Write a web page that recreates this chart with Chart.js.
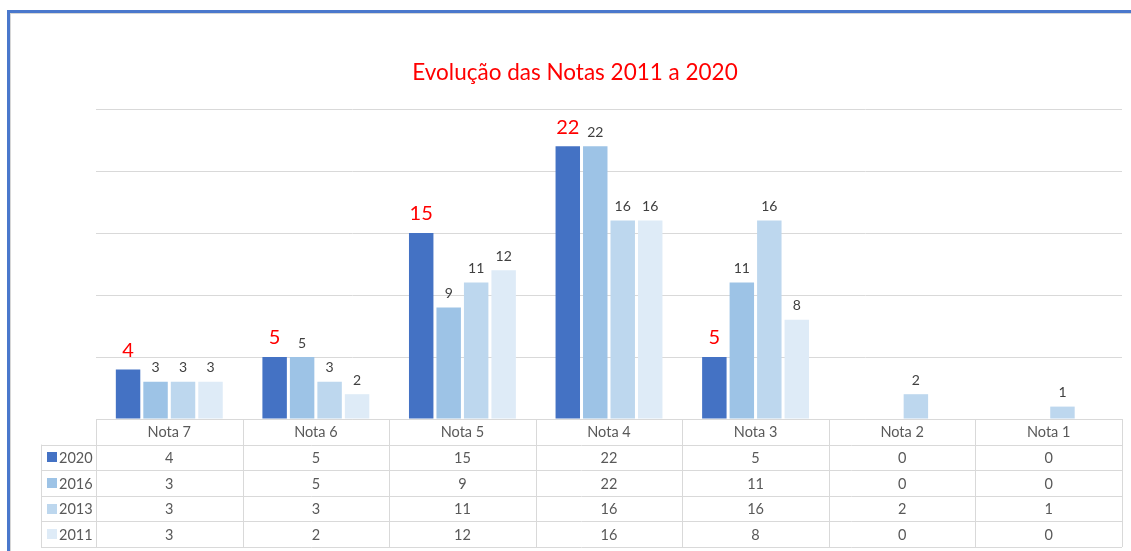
<!DOCTYPE html>
<html>
<head>
<meta charset="utf-8">
<script src="https://cdn.jsdelivr.net/npm/chart.js@4.4.1/dist/chart.umd.min.js"></script>
<style>
  html, body { margin: 0; padding: 0; background: #fff; }
  #frame { position: absolute; left: 7px; top: 10px; width: 1200px; height: 600px; border: 3px solid #4a78cc; box-sizing: border-box; }
  #frame::after { content: ''; position: absolute; left: 0; top: 0; right: 0; bottom: 0; border: 1px solid #d6d6d6; }
  #wrap { position: absolute; left: 0; top: 0; width: 1131px; height: 551px; }
</style>
</head>
<body>
<div id="frame"></div>
<div id="wrap"><canvas id="chart"></canvas></div>
<script>
const categories = ['Nota 7', 'Nota 6', 'Nota 5', 'Nota 4', 'Nota 3', 'Nota 2', 'Nota 1'];
const years = ['2020', '2016', '2013', '2011'];
const values2020 = [4, 5, 15, 22, 5, 0, 0];
const values2016 = [3, 5, 9, 22, 11, 0, 0];
const values2013 = [3, 3, 11, 16, 16, 2, 1];
const values2011 = [3, 2, 12, 16, 8, 0, 0];
const yTicks = [0, 5, 10, 15, 20, 25];
const TITLE = 'Evolução das Notas 2011 a 2020';

const COLORS = ['#4472c4', '#9dc3e6', '#bdd7ee', '#deebf7'];
const FONT = 'Lato, "Open Sans", sans-serif';
const series = [values2020, values2016, values2013, values2011];

// title is centred on the whole frame, not on the plot, so draw it by hand
const titlePlugin = {
  id: 'titlePlugin',
  afterDraw(chart) {
    const ctx = chart.ctx;
    ctx.save();
    ctx.fillStyle = '#ff0000';
    ctx.font = '22.5px ' + FONT;
    ctx.textAlign = 'center';
    ctx.textBaseline = 'middle';
    ctx.fillText(TITLE, 575, 73);
    ctx.restore();
  }
};

// value labels above each bar (2020 in red, bigger)
const barLabels = {
  id: 'barLabels',
  afterDatasetsDraw(chart) {
    const ctx = chart.ctx;
    ctx.save();
    ctx.textAlign = 'center';
    ctx.textBaseline = 'bottom';
    chart.data.datasets.forEach((ds, i) => {
      chart.getDatasetMeta(i).data.forEach((bar, j) => {
        const v = ds.data[j];
        if (!v) return;
        if (i === 0) { ctx.fillStyle = '#ff0000'; ctx.font = '20px ' + FONT; ctx.fillText(v, bar.x, bar.y - 9); }
        else { ctx.fillStyle = '#404040'; ctx.font = '14px ' + FONT; ctx.fillText(v, bar.x, bar.y - 7); }
      });
    });
    ctx.restore();
  }
};

// data table under the plot
const dataTable = {
  id: 'dataTable',
  afterDraw(chart) {
    const ctx = chart.ctx, x = chart.scales.x, area = chart.chartArea;
    const top = area.bottom, rowH = 25.6, n = categories.length;
    const colW = (x.right - x.left) / n;
    const legendLeft = 41;
    ctx.save();
    ctx.strokeStyle = '#d9d9d9';
    ctx.lineWidth = 1;
    ctx.beginPath();
    for (let r = 0; r <= years.length + 1; r++) {
      const y = Math.round(top + r * rowH) + 0.5;
      ctx.moveTo(r === 0 ? x.left : legendLeft, y);
      ctx.lineTo(x.right, y);
    }
    for (let c = 0; c <= n; c++) {
      const xx = Math.round(x.left + c * colW) + 0.5;
      ctx.moveTo(xx, top);
      ctx.lineTo(xx, top + (years.length + 1) * rowH);
    }
    ctx.moveTo(legendLeft + 0.5, top + rowH);
    ctx.lineTo(legendLeft + 0.5, top + (years.length + 1) * rowH);
    ctx.stroke();

    ctx.fillStyle = '#595959';
    ctx.font = '14.5px ' + FONT;
    ctx.textAlign = 'center';
    ctx.textBaseline = 'middle';
    categories.forEach((c, j) => ctx.fillText(c, x.getPixelForValue(j), top + rowH / 2 + 1));
    chart.data.datasets.forEach((ds, i) => {
      const cy = top + (i + 1.5) * rowH + 1;
      ds.data.forEach((v, j) => ctx.fillText(v, x.getPixelForValue(j), cy));
    });
    ctx.textAlign = 'left';
    chart.data.datasets.forEach((ds, i) => {
      const cy = top + (i + 1.5) * rowH;
      ctx.fillStyle = ds.backgroundColor;
      ctx.fillRect(47, Math.round(cy) - 5, 10, 10);
      ctx.fillStyle = '#595959';
      ctx.fillText(ds.label, 59, cy + 1);
    });
    ctx.restore();
  }
};

new Chart(document.getElementById('chart'), {
  type: 'bar',
  data: {
    labels: categories,
    datasets: years.map((y, i) => ({
      label: y,
      data: series[i],
      backgroundColor: COLORS[i],
      borderWidth: 0,
      categoryPercentage: 0.75,
      barPercentage: 0.89
    }))
  },
  options: {
    responsive: true,
    maintainAspectRatio: false,
    animation: false,
    layout: { padding: { left: 96, right: 9, top: 109, bottom: 132 } },
    plugins: {
      legend: { display: false },
      tooltip: { enabled: false },
      title: { display: false }
    },
    scales: {
      x: { display: false },
      y: {
        min: 0, max: 25,
        afterBuildTicks: s => { s.ticks = yTicks.map(v => ({ value: v })); },
        ticks: { display: false },
        grid: { color: '#d9d9d9', drawTicks: false },
        border: { display: false }
      }
    }
  },
  plugins: [titlePlugin, barLabels, dataTable]
});
</script>
</body>
</html>
